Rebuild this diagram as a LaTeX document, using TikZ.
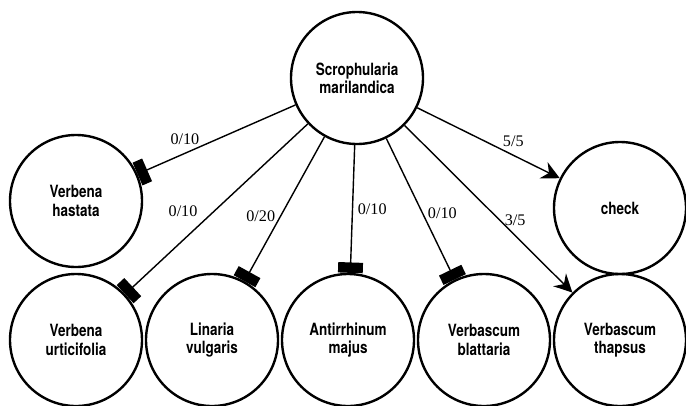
\documentclass[tikz,border=0pt]{standalone}
\usepackage{fontspec}
\newfontfamily\plantfont[FakeStretch=0.8]{TeX Gyre Heros}
\newfontfamily\ratiofont{Liberation Serif}
\usetikzlibrary{arrows.meta}

\tikzstyle{plant} = [circle,draw=black,line width=1.7pt,minimum size=3.3cm,align=center,font={\plantfont\bfseries\fontsize{12}{13}\selectfont}]
\tikzstyle{ratio} = [font={\ratiofont\fontsize{11.5}{12}\selectfont}]
\tikzstyle{inhib} = [line width=1pt,-{Rectangle[width=0.62cm,length=0.26cm]}]
\tikzstyle{act} = [line width=1pt,-{Stealth[length=0.45cm,width=0.45cm,inset=0.15cm]}]

\begin{document}
\begin{tikzpicture}[node distance=3.4cm]
	\useasboundingbox (0,0) rectangle (17.15,-10.125);
	\node (urt) [plant] at (1.9,-8.5) {Verbena\\urticifolia};
	\node (lin) [plant,right of=urt] {Linaria\\vulgaris};
	\node (ant) [plant,right of=lin] {Antirrhinum\\majus};
	\node (bla) [plant,right of=ant] {Verbascum\\blattaria};
	\node (tha) [plant,right of=bla] {Verbascum\\thapsus};
	\node (has) [plant,node distance=3.475cm,above of=urt] {Verbena\\hastata};
	\node (chk) [plant,node distance=3.3cm,above of=tha] {check};
	\node (scr) [plant,node distance=6.55cm,above of=ant,xshift=0.225cm] {Scrophularia\\marilandica};
	\draw [inhib] (scr) -- node[ratio,pos=0.7,above=2pt] {0/10} (has);
	\draw [inhib] (scr) -- node[ratio,pos=0.575,above left] {0/10} (urt);
	\draw [inhib] (scr) -- node[ratio,pos=0.55,left] {0/20} (lin);
	\draw [inhib] (scr) -- node[ratio,pos=0.5,right] {0/10} (ant);
	\draw [inhib] (scr) -- node[ratio,pos=0.53,right] {0/10} (bla);
	\draw [act] (scr) -- node[ratio,pos=0.565,right] {3/5} (tha);
	\draw [act] (scr) -- node[ratio,pos=0.674,above=2pt] {5/5} (chk);
\end{tikzpicture}
\end{document}
